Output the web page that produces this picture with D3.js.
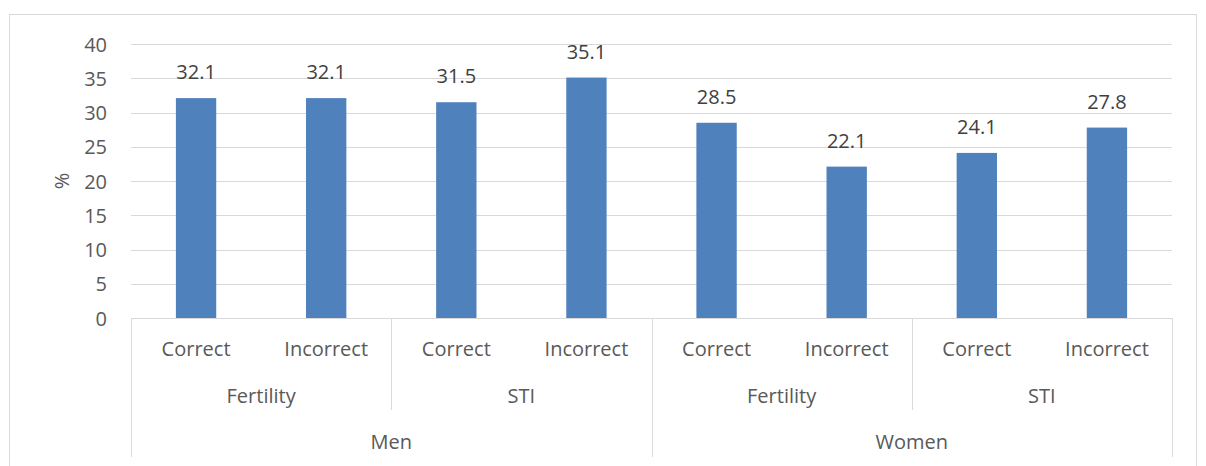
<!DOCTYPE html>
<html>
<head>
<meta charset="utf-8">
<script src="https://cdn.jsdelivr.net/npm/d3@7"></script>
<style>
  html, body { margin: 0; padding: 0; background: #fff; }
  svg { display: block; }
  text { font-family: "Open Sans", "Liberation Sans", sans-serif; fill: #595959; }
</style>
</head>
<body>
<svg id="chart" width="1206" height="466"></svg>
<script>
// Share (%) answering correctly / incorrectly, by sex and topic
const sexes = ["Men", "Women"];
const topics = ["Fertility", "STI"];
const answers = ["Correct", "Incorrect"];
const values = [32.1, 32.1, 31.5, 35.1, 28.5, 22.1, 24.1, 27.8];
const yTicks = [0, 5, 10, 15, 20, 25, 30, 35, 40];

// one row per leaf category, in drawing order
const rows = [];
sexes.forEach(s => topics.forEach(t => answers.forEach(a => {
  rows.push({ sex: s, topic: t, answer: a, key: s + "|" + t + "|" + a, value: values[rows.length] });
})));

const svg = d3.select("#chart");
const m = { left: 131, right: 1172, top: 44, bottom: 318 };
const FS = 20;

// outer frame
svg.append("rect").attr("x", 9.5).attr("y", 14.5).attr("width", 1187).attr("height", 470)
  .attr("fill", "none").attr("stroke", "#d9d9d9").attr("stroke-width", 1);

const x = d3.scaleBand().domain(rows.map(d => d.key)).range([m.left, m.right]).paddingInner(0.69).paddingOuter(0.345);
const xOuter = d3.scaleBand().domain(rows.map(d => d.key)).range([m.left, m.right]);
const y = d3.scaleLinear().domain([0, 40]).range([m.bottom, m.top]);

// gridlines
svg.append("g").selectAll("line").data(yTicks.filter(v => v > 0)).join("line")
  .attr("x1", m.left).attr("x2", m.right)
  .attr("y1", d => Math.round(y(d)) + 0.5).attr("y2", d => Math.round(y(d)) + 0.5)
  .attr("stroke", "#d9d9d9").attr("stroke-width", 1);

// y axis labels
const yAxis = d3.axisLeft(y).tickValues(yTicks).tickSize(0).tickPadding(0);
const gy = svg.append("g").attr("transform", `translate(${m.left - 24},0)`).call(yAxis);
gy.select(".domain").remove();
gy.selectAll("text").attr("font-size", FS).style("font-family", null).attr("fill", "#595959").attr("dy", "0.35em");

svg.append("text").attr("transform", `translate(69,${(m.top + m.bottom) / 2}) rotate(-90)`)
  .attr("text-anchor", "middle").attr("font-size", FS).text("%");

// bars
svg.append("g").selectAll("rect").data(rows).join("rect")
  .attr("x", d => x(d.key)).attr("width", x.bandwidth())
  .attr("y", d => y(d.value)).attr("height", d => y(0) - y(d.value))
  .attr("fill", "#4f81bd");

// value labels
svg.append("g").selectAll("text").data(rows).join("text")
  .attr("x", d => x(d.key) + x.bandwidth() / 2).attr("y", d => y(d.value) - 19)
  .attr("text-anchor", "middle").attr("font-size", FS)
  .style("fill", "#404040")
  .text(d => d.value.toFixed(1));

// category axis (multi-level)
const axisCol = "#d9d9d9";
const gx = svg.append("g");
gx.append("line").attr("x1", m.left).attr("x2", m.right).attr("y1", m.bottom + 0.5).attr("y2", m.bottom + 0.5)
  .attr("stroke", axisCol);

const bandW = xOuter.bandwidth();
// leaf labels
gx.selectAll("text.leaf").data(rows).join("text").attr("class", "leaf")
  .attr("x", d => xOuter(d.key) + bandW / 2).attr("y", 356)
  .attr("text-anchor", "middle").attr("font-size", FS).text(d => d.answer);

// topic groups
const topicGroups = [];
sexes.forEach(s => topics.forEach(t => {
  const keys = rows.filter(r => r.sex === s && r.topic === t).map(r => r.key);
  topicGroups.push({ label: t, x0: xOuter(keys[0]), x1: xOuter(keys[keys.length - 1]) + bandW });
}));
gx.selectAll("text.topic").data(topicGroups).join("text").attr("class", "topic")
  .attr("x", d => (d.x0 + d.x1) / 2).attr("y", 403)
  .attr("text-anchor", "middle").attr("font-size", FS).text(d => d.label);

const sexGroups = sexes.map(s => {
  const keys = rows.filter(r => r.sex === s).map(r => r.key);
  return { label: s, x0: xOuter(keys[0]), x1: xOuter(keys[keys.length - 1]) + bandW };
});
gx.selectAll("text.sex").data(sexGroups).join("text").attr("class", "sex")
  .attr("x", d => (d.x0 + d.x1) / 2).attr("y", 449)
  .attr("text-anchor", "middle").attr("font-size", FS).text(d => d.label);

// separators: between topics (short), between sexes and ends (long)
const seps = [];
topicGroups.forEach((g, i) => { if (i % 2 === 1) seps.push({ x: g.x0, y2: 410 }); });
sexGroups.forEach(g => { seps.push({ x: g.x0, y2: 457 }); });
seps.push({ x: sexGroups[sexGroups.length - 1].x1, y2: 457 });
gx.selectAll("line.sep").data(seps).join("line").attr("class", "sep")
  .attr("x1", d => Math.round(d.x) + 0.5).attr("x2", d => Math.round(d.x) + 0.5)
  .attr("y1", m.bottom).attr("y2", d => d.y2)
  .attr("stroke", axisCol);
</script>
</body>
</html>
